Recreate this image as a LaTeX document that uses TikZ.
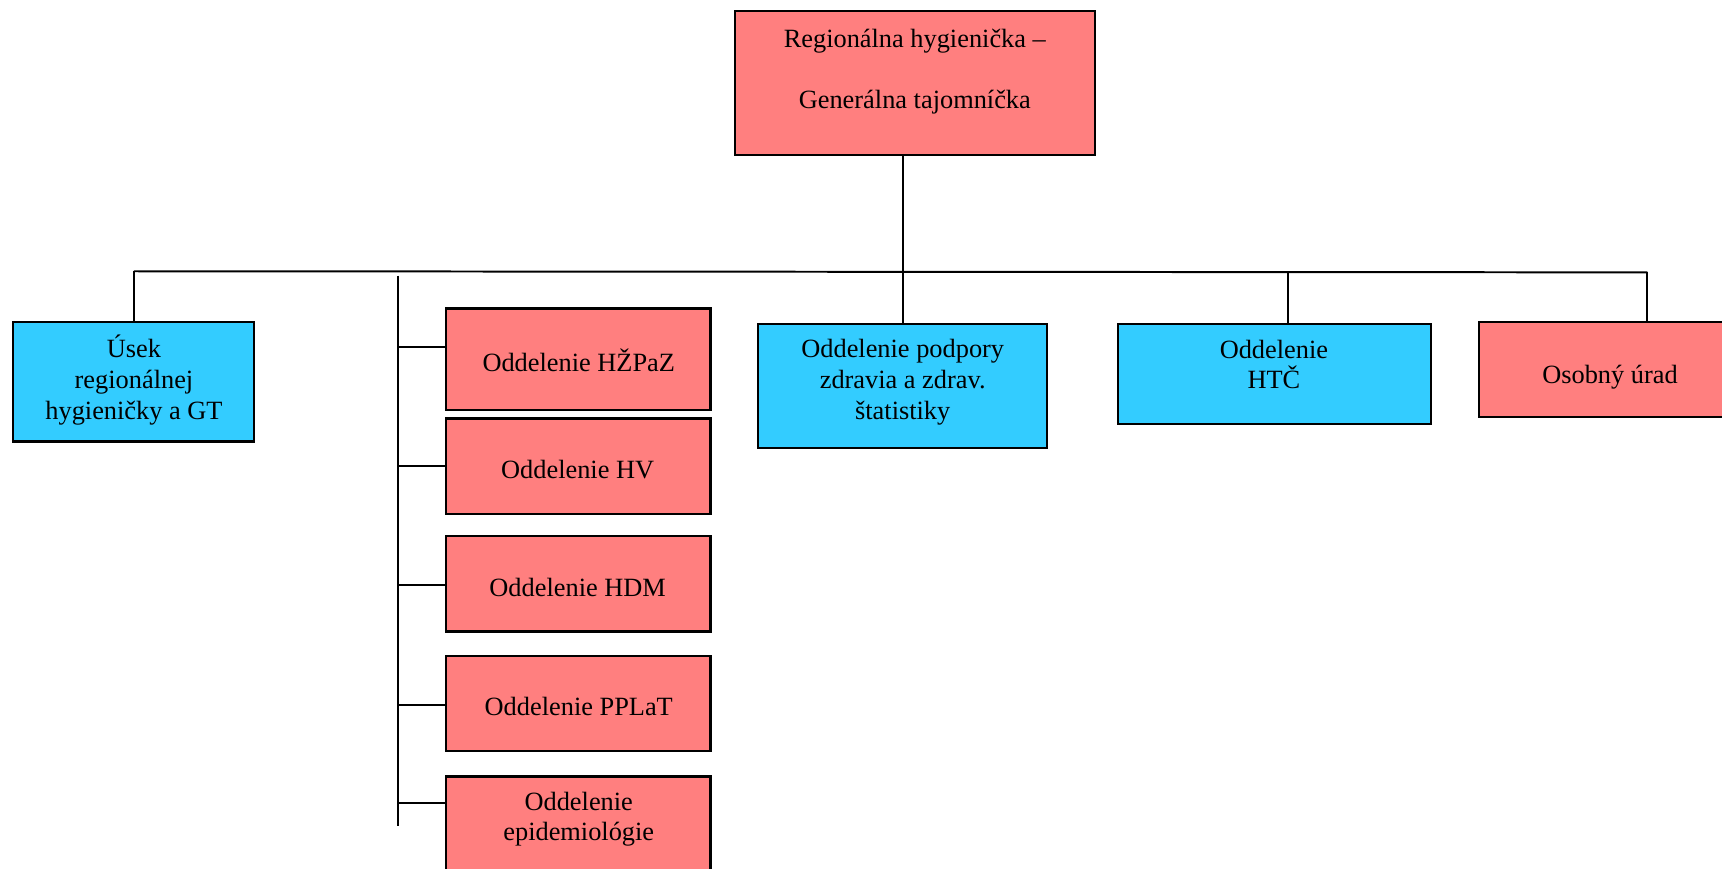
\documentclass[tikz,border=0pt]{standalone}
\usepackage{fontspec}
\setmainfont{Liberation Serif}
\definecolor{salmon}{HTML}{FF7F7F}
\definecolor{skyb}{HTML}{33CCFF}
\begin{document}
\begin{tikzpicture}[x=0.5pt,y=-0.5pt,
  box/.style={draw=black,line width=1pt,inner sep=0pt,outer sep=0pt},
  pinkbox/.style={box,fill=salmon},
  bluebox/.style={box,fill=skyb},
  txt/.style={inner sep=0pt,align=center,font=\fontsize{12}{14}\selectfont},
  conn/.style={line width=0.9pt}]
\useasboundingbox (0,0) rectangle (1568,791);
\begin{scope}
\clip (0,0) rectangle (1568,791);
% boxes
\node[pinkbox,minimum width=164pt,minimum height=65.5pt] (top) at (833,75.5) {};
\node[bluebox,minimum width=109.5pt,minimum height=54.5pt] (usek) at (121.5,347.5) {};
\node[pinkbox,minimum width=120.5pt,minimum height=46pt] (hzpaz) at (526.5,327) {};
\node[pinkbox,minimum width=120.5pt,minimum height=43.5pt] (hv) at (526.5,424.5) {};
\node[pinkbox,minimum width=120.5pt,minimum height=43.5pt] (hdm) at (526.5,531.5) {};
\node[pinkbox,minimum width=120.5pt,minimum height=43.5pt] (pplat) at (526.5,640.5) {};
\node[pinkbox,minimum width=120.5pt,minimum height=46.5pt] (epid) at (526.5,753.5) {};
\node[bluebox,minimum width=131.5pt,minimum height=56.5pt] (podp) at (821.5,351.5) {};
\node[bluebox,minimum width=142.5pt,minimum height=45.5pt] (htc) at (1160.5,340.5) {};
\node[pinkbox,minimum width=121.5pt,minimum height=43.5pt] (osob) at (1468.5,336.5) {};
% texts
\node[txt] (ttop) at (833,65) {Regionálna hygienička –\\[13.75pt]Generálna tajomníčka};
\node[txt] (tusek) at (122,346) {Úsek\\regionálnej\\hygieničky a GT};
\node[txt] (thzpaz) at (527,328) {Oddelenie HŽPaZ};
\node[txt] (thv) at (526,428) {Oddelenie HV};
\node[txt] (thdm) at (526,535) {Oddelenie HDM};
\node[txt] (tpplat) at (527,643) {Oddelenie PPLaT};
\node[txt] (tepid) at (527,746) {Oddelenie\\epidemiológie};
\node[txt] (tpodp) at (822,348) {Oddelenie podpory\\zdravia a zdrav.\\štatistiky};
\node[txt] (thtc) at (1160,332) {Oddelenie\\HTČ};
\node[txt] (tosob) at (1466,343) {Osobný úrad};
% coordinates
\coordinate (busL) at (122,247);
\coordinate (busM) at (822,247.5);
\coordinate (busH) at (1173,248);
\coordinate (busR) at (1500,248);
\coordinate (spT) at (362,251);
\coordinate (spB) at (362,752);
\coordinate (b1) at (362,316);
\coordinate (b2) at (362,424);
\coordinate (b3) at (362,533);
\coordinate (b4) at (362,642);
\coordinate (b5) at (362,731);
% connectors
\draw[conn] (busM |- top.south) -- (busM |- podp.north);
\draw[conn] (busL) -- (busR);
\draw[conn] (busL) -- (busL |- usek.north);
\draw[conn] (busH) -- (busH |- htc.north);
\draw[conn] (busR) -- (busR |- osob.north);
\draw[conn] (spT) -- (spB);
\draw[conn] (b1) -- (b1 -| hzpaz.west);
\draw[conn] (b2) -- (b2 -| hv.west);
\draw[conn] (b3) -- (b3 -| hdm.west);
\draw[conn] (b4) -- (b4 -| pplat.west);
\draw[conn] (b5) -- (b5 -| epid.west);
\end{scope}
\end{tikzpicture}
\end{document}
